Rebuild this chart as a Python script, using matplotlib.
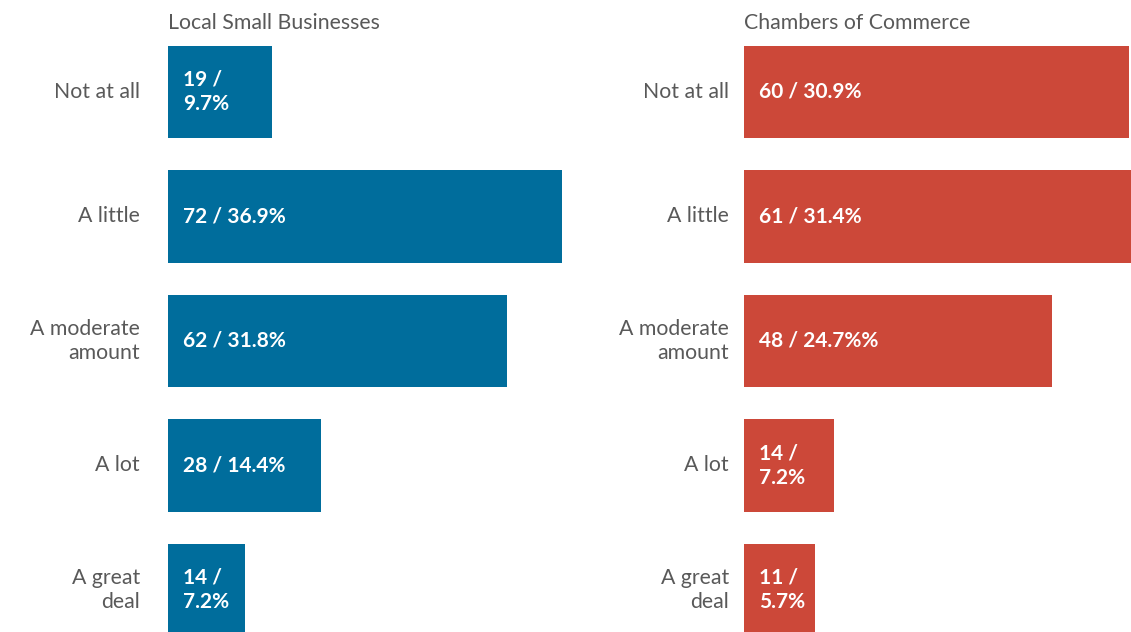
import matplotlib
matplotlib.use("Agg")
import matplotlib.pyplot as plt
import numpy as np

plt.rcParams['font.family'] = ['Lato', 'DejaVu Sans']

categories = ['Not at all', 'A little', 'A moderate\namount', 'A lot', 'A great\ndeal']

small_biz_counts = [19, 72, 62, 28, 14]
small_biz_pcts = ['9.7%', '36.9%', '31.8%', '14.4%', '7.2%']

chamber_counts = [60, 61, 48, 14, 11]
chamber_pcts = ['30.9%', '31.4%', '24.7%%', '7.2%', '5.7%']

W, H = 1131, 632
fig = plt.figure(figsize=(W / 100, H / 100), dpi=100)

grey = '#595959'


def px_axes(x0, y_top, width, height):
    # place an axes using pixel coordinates measured from the top-left corner
    return fig.add_axes([x0 / W, 1 - (y_top + height) / H, width / W, height / H])


def panel(x0, width, counts, pcts, color, title, label_gap):
    ax = px_axes(x0, 29.75, width, 622.5)
    y = np.arange(len(counts))
    ax.barh(y, counts, height=0.74, color=color, clip_on=False)
    ax.set_xlim(0, max(counts))
    ax.set_ylim(len(counts) - 0.5, -0.5)
    ax.axis('off')
    for yi, c, p in zip(y, counts, pcts):
        # narrow bars get the value split over two lines
        sep = ' /\n' if c / max(counts) < 0.3 else ' / '
        ax.annotate(f'{c}{sep}{p}', (0, yi), xytext=(15, 0),
                    textcoords='offset pixels',
                    va='center', ha='left', color='white', fontsize=15,
                    fontweight='bold', linespacing=1.3)
    for yi, cat in zip(y, categories):
        ax.annotate(cat, (0, yi), xytext=(-label_gap, 0), textcoords='offset pixels',
                    va='center', ha='right', color=grey, fontsize=15.3,
                    linespacing=1.3)
    fig.text(x0 / W, 1 - 23 / H, title, ha='left', va='center',
             color=grey, fontsize=15.3)


panel(168, 394, small_biz_counts, small_biz_pcts, '#006D9C', 'Local Small Businesses', 28)
panel(744, 391.6, chamber_counts, chamber_pcts, '#CC4839', 'Chambers of Commerce', 15)

fig.savefig('out.png', dpi=100)
